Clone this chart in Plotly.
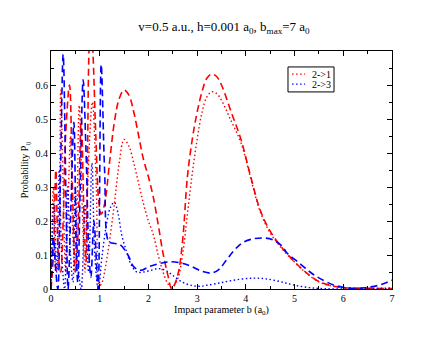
import plotly.graph_objects as go

# 2->1 (dashed)
b_21a = [0.0, 0.05, 0.1, 0.15, 0.2, 0.25, 0.3, 0.38, 0.44, 0.5, 0.55, 0.62, 0.68, 0.72, 0.78, 0.82, 0.86, 0.92, 0.98, 1.03,
         1.1, 1.2, 1.3, 1.4, 1.5, 1.6, 1.7, 1.8, 1.9, 2.0, 2.1, 2.2, 2.3, 2.4, 2.48, 2.6, 2.7, 2.8, 2.9, 3.0,
         3.1, 3.2, 3.3, 3.4, 3.5, 3.7, 3.9, 4.1, 4.3, 4.5, 4.75, 5.0, 5.25, 5.5, 5.75, 6.0, 6.5, 7.0]
p_21a = [0.0, 0.1, 0.35, 0.1, 0.05, 0.2, 0.45, 0.6, 0.3, 0.05, 0.15, 0.5, 0.2, 0.08, 0.7, 0.8, 0.7, 0.45, 0.26, 0.22,
         0.25, 0.37, 0.49, 0.56, 0.585, 0.57, 0.52, 0.45, 0.38, 0.33, 0.27, 0.19, 0.105, 0.04, 0.0, 0.04, 0.14, 0.33, 0.44, 0.52,
         0.58, 0.62, 0.632, 0.625, 0.6, 0.52, 0.44, 0.33, 0.23, 0.17, 0.12, 0.08, 0.047, 0.022, 0.01, 0.004, 0.002, 0.001]

# 2->1 (dotted)
b_21b = [0.0, 0.05, 0.1, 0.15, 0.2, 0.25, 0.3, 0.35, 0.4, 0.45, 0.5, 0.58, 0.65, 0.7, 0.75, 0.85, 0.93, 1.0, 1.05,
         1.1, 1.2, 1.3, 1.4, 1.5, 1.6, 1.7, 1.8, 1.9, 2.0, 2.1, 2.2, 2.3, 2.4, 2.48, 2.6, 2.7, 2.8, 2.9, 3.0,
         3.1, 3.2, 3.3, 3.4, 3.5, 3.68, 3.9, 4.1, 4.3, 4.5, 4.75, 5.0, 5.25, 5.5, 5.75, 6.0, 6.5, 7.0]
p_21b = [0.0, 0.3, 0.05, 0.1, 0.585, 0.3, 0.05, 0.25, 0.45, 0.15, 0.05, 0.54, 0.2, 0.05, 0.3, 0.55, 0.3, 0.01, 0.02,
         0.05, 0.14, 0.25, 0.37, 0.44, 0.42, 0.37, 0.31, 0.25, 0.2, 0.16, 0.1, 0.05, 0.015, 0.005, 0.03, 0.1, 0.22, 0.34, 0.44,
         0.52, 0.565, 0.58, 0.575, 0.555, 0.5, 0.43, 0.325, 0.225, 0.165, 0.117, 0.079, 0.046, 0.021, 0.009, 0.004, 0.002, 0.001]

# 2->3 (dashed)
b_23a = [0.0, 0.05, 0.1, 0.14, 0.19, 0.25, 0.31, 0.35, 0.41, 0.47, 0.52, 0.55, 0.6, 0.66, 0.72, 0.78, 0.82, 0.88, 0.95,
         0.97, 1.03, 1.1, 1.18, 1.25, 1.42, 1.58, 1.7, 1.85, 2.0, 2.2, 2.44, 2.71, 2.9, 3.1, 3.3, 3.45, 3.6, 3.75, 3.9,
         4.1, 4.35, 4.55, 4.75, 4.85, 5.1, 5.3, 5.46, 5.8, 6.1, 6.3, 6.5, 6.7, 6.85, 7.0]
p_23a = [0.0, 0.15, 0.05, 0.0, 0.3, 0.69, 0.25, 0.0, 0.25, 0.49, 0.1, 0.02, 0.3, 0.615, 0.4, 0.1, 0.035, 0.2, 0.03,
         0.0, 0.66, 0.35, 0.14, 0.135, 0.13, 0.1, 0.065, 0.055, 0.065, 0.074, 0.08, 0.075, 0.065, 0.052, 0.047, 0.058, 0.085, 0.112, 0.133,
         0.146, 0.15, 0.145, 0.125, 0.105, 0.076, 0.052, 0.036, 0.012, 0.003, 0.002, 0.005, 0.01, 0.017, 0.026]

# 2->3 (dotted)
b_23b = [0.0, 0.06, 0.12, 0.17, 0.22, 0.28, 0.34, 0.4, 0.45, 0.5, 0.55, 0.62, 0.7, 0.77, 0.84, 0.9, 0.97, 1.05,
         1.15, 1.22, 1.3, 1.38, 1.45, 1.55, 1.65, 1.76, 1.9, 2.05, 2.2, 2.35, 2.5, 2.7, 2.9, 3.06, 3.2, 3.47, 3.8,
         4.15, 4.4, 4.7, 4.97, 5.3, 5.6, 6.0, 6.5, 7.0]
p_23b = [0.0, 0.25, 0.05, 0.35, 0.1, 0.0, 0.3, 0.1, 0.02, 0.3, 0.08, 0.0, 0.25, 0.05, 0.37, 0.1, 0.0, 0.1,
         0.2, 0.24, 0.255, 0.22, 0.16, 0.11, 0.07, 0.05, 0.05, 0.055, 0.06, 0.055, 0.04, 0.02, 0.01, 0.008, 0.011, 0.018, 0.027,
         0.032, 0.03, 0.022, 0.012, 0.004, 0.001, 0.0, 0.001, 0.003]

legend_names = ["2->1", "2->3"]

serif = "Liberation Serif"
red = "rgb(255, 0, 0)"
blue = "rgb(0, 0, 255)"
dots = "1.5px,2.5px"
dashes = "7px,4px"

fig = go.Figure()

fig.add_trace(go.Scatter(x=b_21a, y=p_21a, mode="lines", line_shape="spline", showlegend=False,
                         line=dict(color=red, width=1.6, dash=dashes)))
fig.add_trace(go.Scatter(x=b_21b, y=p_21b, mode="lines", line_shape="spline", showlegend=False,
                         line=dict(color=red, width=1.4, dash=dots)))
fig.add_trace(go.Scatter(x=b_23a, y=p_23a, mode="lines", line_shape="spline", showlegend=False,
                         line=dict(color=blue, width=1.6, dash=dashes)))
fig.add_trace(go.Scatter(x=b_23b, y=p_23b, mode="lines", line_shape="spline", showlegend=False,
                         line=dict(color=blue, width=1.4, dash=dots)))

# small boxed legend like the original (plotly's own legend is much taller)
fig.add_shape(type="rect", xref="paper", yref="paper", x0=0.695, x1=0.83, y0=0.828, y1=0.933,
              line=dict(color="black", width=1), fillcolor="white")
for i, (name, col) in enumerate(zip(legend_names, [red, blue])):
    yy = 0.903 - i * 0.042
    fig.add_shape(type="line", xref="paper", yref="paper", x0=0.707, x1=0.745, y0=yy, y1=yy,
                  line=dict(color=col, width=1.4, dash=dots))
    fig.add_annotation(text=name, xref="paper", yref="paper", x=0.76, y=yy, xanchor="left",
                       yanchor="middle", showarrow=False,
                       font=dict(family=serif, size=10, color="black"))

axis_common = dict(showline=True, linecolor="black", linewidth=1, mirror="ticks", ticks="inside",
                   ticklen=5, tickcolor="black", showgrid=False, zeroline=False,
                   tickfont=dict(family=serif, size=10, color="black"))

fig.update_xaxes(range=[0, 7], dtick=1, tick0=0,
                 minor=dict(dtick=0.5, ticks="inside", ticklen=3, tickcolor="black"),
                 title=dict(text="Impact parameter b (a<sub>0</sub>)", standoff=0,
                            font=dict(family=serif, size=10, color="black")),
                 **axis_common)
fig.update_yaxes(range=[0, 0.7], tickvals=[0, 0.1, 0.2, 0.3, 0.4, 0.5, 0.6],
                 ticktext=["0", "0.1", "0.2", "0.3", "0.4", "0.5", "0.6"],
                 minor=dict(tickvals=[0.05, 0.15, 0.25, 0.35, 0.45, 0.55, 0.65, 0.7],
                            ticks="inside", ticklen=3, tickcolor="black"),
                 title=dict(text="Probability P<sub>ij</sub>", standoff=5,
                            font=dict(family=serif, size=10, color="black")),
                 **axis_common)

# the page body adds an 8px margin, so the figure is a bit smaller than the window
fig.update_layout(
    width=432, height=332,
    margin=dict(l=43, r=48, t=43, b=51),
    plot_bgcolor="white", paper_bgcolor="white",
    showlegend=False,
    title=dict(text="v=0.5 a.u., h=0.001 a<sub>0</sub>, b<sub>max</sub>=7 a<sub>0</sub>",
               font=dict(family=serif, size=13, color="black"),
               x=0.5, xanchor="center", y=0.945, yanchor="middle"),
)

fig.write_html("out.html")
